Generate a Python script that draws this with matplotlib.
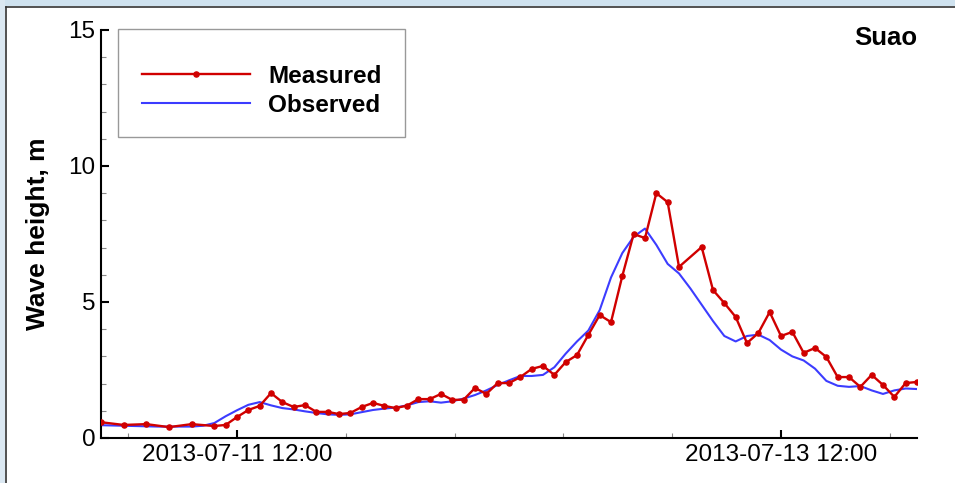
import matplotlib
matplotlib.use("Agg")
import matplotlib.pyplot as plt
import matplotlib.dates as mdates
import matplotlib.ticker as mticker
from matplotlib.patches import Rectangle
from matplotlib.lines import Line2D
import numpy as np

plt.rcParams['font.family'] = ['Liberation Sans', 'DejaVu Sans']

start = np.datetime64('2013-07-11T00:00')

# measured wave height (hours after start, metres)
measured_hours = [0, 2, 4, 6, 8, 10, 11, 12, 13, 14, 15, 16, 17, 18, 19, 20,
                  21, 22, 23, 24, 25, 26, 27, 28, 29, 30, 31, 32, 33, 34, 35,
                  36, 37, 38, 39, 40, 41, 42, 43, 44, 45, 46, 47, 48, 49, 50,
                  51, 53, 54, 55, 56, 57, 58, 59, 60, 61, 62, 63, 64, 65, 66,
                  67, 68, 69, 70, 71, 72]
measured_values = [0.58, 0.48, 0.51, 0.40, 0.51, 0.44, 0.48, 0.77, 1.03, 1.18,
                   1.65, 1.32, 1.14, 1.21, 0.96, 0.96, 0.88, 0.92, 1.14, 1.29,
                   1.18, 1.10, 1.19, 1.43, 1.43, 1.62, 1.40, 1.41, 1.84, 1.62,
                   2.02, 2.02, 2.24, 2.54, 2.65, 2.32, 2.79, 3.05, 3.79, 4.52,
                   4.26, 5.96, 7.50, 7.35, 9.00, 8.67, 6.29, 7.02, 5.44, 4.96,
                   4.45, 3.49, 3.86, 4.63, 3.75, 3.90, 3.13, 3.31, 2.98, 2.24,
                   2.24, 1.88, 2.32, 1.95, 1.51, 2.02, 2.06]

# modelled series, hourly
observed_hours = list(range(73))
observed_values = [0.47, 0.46, 0.45, 0.44, 0.43, 0.42, 0.42, 0.42, 0.42, 0.45,
                   0.55, 0.80, 1.02, 1.22, 1.32, 1.20, 1.10, 1.05, 0.98, 0.92,
                   0.87, 0.85, 0.87, 0.95, 1.03, 1.08, 1.12, 1.20, 1.32, 1.35,
                   1.30, 1.35, 1.45, 1.58, 1.75, 1.95, 2.12, 2.28, 2.28, 2.32,
                   2.60, 3.10, 3.55, 3.95, 4.70, 5.90, 6.80, 7.40, 7.70, 7.10,
                   6.40, 6.05, 5.50, 4.90, 4.30, 3.75, 3.55, 3.75, 3.80, 3.60,
                   3.25, 3.00, 2.85, 2.55, 2.10, 1.92, 1.88, 1.91, 1.75, 1.62,
                   1.75, 1.82, 1.80]

major_ticks = ['2013-07-11T12:00', '2013-07-13T12:00']

t_meas = start + np.array(measured_hours) * np.timedelta64(60, 'm')
t_obs = start + np.array(observed_hours) * np.timedelta64(60, 'm')

fig = plt.figure(figsize=(9.55, 4.83), dpi=100)
fig.patch.set_facecolor('white')

# window frame strips
fig.patches.append(Rectangle((0, 1 - 6 / 483), 1, 6 / 483, transform=fig.transFigure,
                             facecolor='#cfe2ef', edgecolor='none', zorder=0))
fig.patches.append(Rectangle((0, 0), 5 / 955, 1, transform=fig.transFigure,
                             facecolor='#dbe8f2', edgecolor='none', zorder=0))
fig.lines.append(Line2D([5.5 / 955, 1], [1 - 6.5 / 483, 1 - 6.5 / 483],
                        transform=fig.transFigure, color='#333333', lw=1.2))
fig.lines.append(Line2D([5.5 / 955, 5.5 / 955], [0, 1 - 6.5 / 483],
                        transform=fig.transFigure, color='#333333', lw=1.2))

ax = fig.add_axes([101 / 955, 1 - 438 / 483, 816 / 955, 408 / 483])

red = '#d00000'
blue = '#3c3cff'
ax.plot(t_meas, measured_values, color=red, lw=1.7, marker='o', markersize=3.7,
        label='Measured', zorder=3)
ax.plot(t_obs, observed_values, color=blue, lw=1.5, label='Observed', zorder=2)

ax.set_xlim(start, start + np.timedelta64(72, 'h'))
ax.set_ylim(0, 15)

for s in ['top', 'right']:
    ax.spines[s].set_visible(False)
for s in ['left', 'bottom']:
    ax.spines[s].set_linewidth(1.5)

ax.set_yticks([0, 5, 10, 15])
ax.set_yticks(np.arange(0, 16, 1), minor=True)
ax.xaxis.set_major_locator(mticker.FixedLocator(
    mdates.date2num(np.array(major_ticks, dtype='datetime64[m]'))))
# five minor intervals between the two labelled ticks
minor_pos = np.datetime64('2013-07-11T02:24') + np.arange(8) * np.timedelta64(576, 'm')
ax.xaxis.set_minor_locator(mticker.FixedLocator(mdates.date2num(minor_pos)))
ax.xaxis.set_major_formatter(mdates.DateFormatter('%Y-%m-%d %H:%M'))

ax.tick_params(which='major', direction='in', length=6, width=1.5, labelsize=17.5,
               pad=4, top=False, right=False)
ax.tick_params(which='minor', direction='in', length=3.5, width=0.8, color='#888888',
               top=False, right=False)

ax.set_ylabel('Wave height, m', fontsize=19, fontweight='bold', labelpad=13)
ax.text(1.0, 0.98, 'Suao', transform=ax.transAxes, ha='right', va='center',
        fontsize=18.5, fontweight='bold')

# legend box drawn separately so the padding can be uneven
ax.add_patch(Rectangle((17 / 816, 301 / 408), 287 / 816, 108 / 408,
                       transform=ax.transAxes, facecolor='white',
                       edgecolor='#999999', lw=1.0, zorder=4, clip_on=False))
leg = ax.legend(loc='upper left', bbox_to_anchor=(41 / 816, 373 / 408),
                prop={'weight': 'bold', 'size': 17.5}, handlelength=4.45,
                handletextpad=0.74, borderpad=0, labelspacing=0.24,
                frameon=False, borderaxespad=0)
leg.set_zorder(5)
for h in leg.legend_handles:
    if h.get_marker() not in (None, 'None', ''):
        h.set_markevery([1])

fig.savefig('out.png', dpi=100)
